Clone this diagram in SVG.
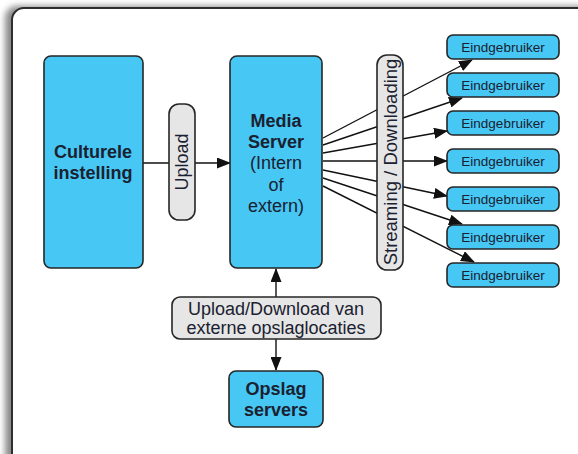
<svg xmlns="http://www.w3.org/2000/svg" width="578" height="454" viewBox="0 0 578 454">
<style>
.node{fill:#47c7f4;stroke:#262626;stroke-width:1.6}
.lbl{fill:#e6e6e6;stroke:#262626;stroke-width:1.6}
.t{font-family:"Liberation Sans",Arial,sans-serif;fill:#1a2130;text-anchor:middle}
.b{font-weight:bold;font-size:18px}
.n{font-size:18px}
.e{font-size:13.5px}
.c{fill:none;stroke:#111;stroke-width:1.4}
</style>
<defs>
<marker id="ah" markerWidth="14" markerHeight="11" refX="13" refY="5.5" orient="auto" markerUnits="userSpaceOnUse">
<path d="M0,0 L14,5.5 L0,11 Z" fill="#111"/>
</marker>
<filter id="sh" x="-10%" y="-10%" width="120%" height="120%">
<feGaussianBlur stdDeviation="3"/>
</filter>
</defs>
<rect width="578" height="454" fill="#ffffff"/>
<rect x="5" y="6" width="620" height="470" rx="12" fill="#8a8a8a" filter="url(#sh)"/>
<rect x="12" y="8" width="620" height="470" rx="12" fill="#ffffff" stroke="#2e2e2e" stroke-width="2"/>

<g id="connectors">
<line class="c" x1="143" y1="163" x2="230" y2="163" marker-end="url(#ah)"/>
<line class="c" x1="323" y1="138" x2="472" y2="60" marker-end="url(#ah)"/>
<line class="c" x1="323" y1="145" x2="462" y2="98" marker-end="url(#ah)"/>
<line class="c" x1="323" y1="153" x2="447" y2="131" marker-end="url(#ah)"/>
<line class="c" x1="323" y1="161" x2="447" y2="161" marker-end="url(#ah)"/>
<line class="c" x1="323" y1="170" x2="447" y2="196" marker-end="url(#ah)"/>
<line class="c" x1="323" y1="178" x2="462" y2="224" marker-end="url(#ah)"/>
<line class="c" x1="323" y1="186" x2="474" y2="262" marker-end="url(#ah)"/>
<line class="c" x1="276" y1="297" x2="276" y2="269" marker-end="url(#ah)"/>
<line class="c" x1="276" y1="339" x2="276" y2="370" marker-end="url(#ah)"/>
</g>

<g id="culturele">
<rect class="node" x="44" y="56" width="99" height="212" rx="7"/>
<text class="t b" x="93" y="158">Culturele</text>
<text class="t b" x="93" y="179">instelling</text>
</g>

<g id="upload">
<rect class="lbl" x="169" y="104" width="26" height="116" rx="10"/>
<text class="t n" transform="translate(188,162) rotate(-90)" x="0" y="0">Upload</text>
</g>

<g id="mediaserver">
<rect class="node" x="230" y="56" width="92" height="212" rx="7"/>
<text class="t b" x="276" y="127">Media</text>
<text class="t b" x="276" y="148">Server</text>
<text class="t n" x="276" y="169">(Intern</text>
<text class="t n" x="276" y="191">of</text>
<text class="t n" x="276" y="212">extern)</text>
</g>

<g id="streaming">
<rect class="lbl" x="377" y="55" width="26" height="215" rx="10"/>
<text class="t n" transform="translate(397,162) rotate(-90)" x="0" y="0" style="font-size:18.5px">Streaming / Downloading</text>
</g>

<g id="eind1"><rect class="node" x="447" y="35" width="112" height="24" rx="6"/><text class="t e" x="503" y="52">Eindgebruiker</text></g>
<g id="eind2"><rect class="node" x="447" y="73" width="112" height="24" rx="6"/><text class="t e" x="503" y="90">Eindgebruiker</text></g>
<g id="eind3"><rect class="node" x="447" y="111" width="112" height="24" rx="6"/><text class="t e" x="503" y="128">Eindgebruiker</text></g>
<g id="eind4"><rect class="node" x="447" y="149" width="112" height="24" rx="6"/><text class="t e" x="503" y="166">Eindgebruiker</text></g>
<g id="eind5"><rect class="node" x="447" y="187" width="112" height="24" rx="6"/><text class="t e" x="503" y="204">Eindgebruiker</text></g>
<g id="eind6"><rect class="node" x="447" y="225" width="112" height="24" rx="6"/><text class="t e" x="503" y="242">Eindgebruiker</text></g>
<g id="eind7"><rect class="node" x="447" y="263" width="112" height="24" rx="6"/><text class="t e" x="503" y="280">Eindgebruiker</text></g>

<g id="extern">
<rect class="lbl" x="172" y="297" width="209" height="42" rx="8"/>
<text class="t n" x="276" y="315">Upload/Download van</text>
<text class="t n" x="276" y="334">externe opslaglocaties</text>
</g>

<g id="opslag">
<rect class="node" x="229" y="371" width="94" height="56" rx="7"/>
<text class="t b" x="276" y="395">Opslag</text>
<text class="t b" x="276" y="416">servers</text>
</g>
</svg>
